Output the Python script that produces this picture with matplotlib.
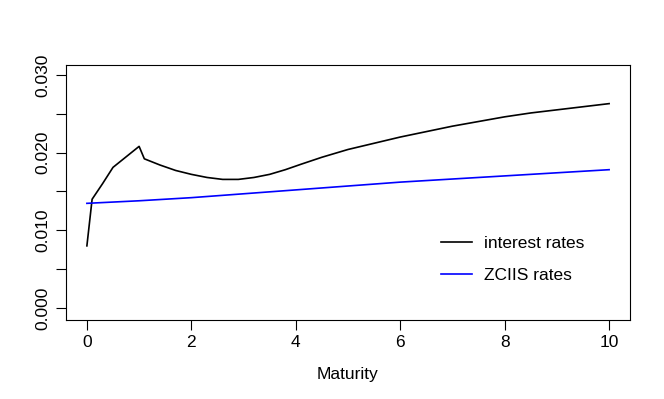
import matplotlib
matplotlib.use("Agg")
import matplotlib.pyplot as plt

plt.rcParams['font.family'] = ['Liberation Sans', 'DejaVu Sans']

rate_t = [0.0, 0.1, 0.3, 0.5, 1.0, 1.1, 1.4, 1.7, 2.0, 2.3, 2.6, 2.9, 3.2, 3.5,
          3.8, 4.1, 4.5, 5.0, 5.5, 6.0, 6.5, 7.0, 7.5, 8.0, 8.5, 9.0, 9.5, 10.0]
rate_v = [0.0080, 0.0140, 0.0160, 0.0181, 0.0208, 0.0192, 0.0184, 0.0177, 0.0172,
          0.0168, 0.01655, 0.01655, 0.0168, 0.0172, 0.0178, 0.0185, 0.0194, 0.0204,
          0.0212, 0.0220, 0.0227, 0.0234, 0.0240, 0.0246, 0.0251, 0.0255, 0.0259,
          0.0263]

zciis_t = [0, 1, 2, 3, 4, 5, 6, 7, 8, 9, 10]
zciis_v = [0.01347, 0.0138, 0.0142, 0.0147, 0.0152, 0.0157, 0.0162, 0.0166,
           0.0170, 0.0174, 0.0178]

xticks = [0, 2, 4, 6, 8, 10]
yticks = [0.000, 0.005, 0.010, 0.015, 0.020, 0.025, 0.030]
ylabels = ['0.000', '', '0.010', '', '0.020', '', '0.030']

fs = 12.5
fig = plt.figure(figsize=(6.64, 3.99), dpi=100)
ax = fig.add_axes([66/664, 1-320/399, (630-66)/664, (320-65)/399])

ax.plot(rate_t, rate_v, color='black', lw=1.2, label='interest rates')
ax.plot(zciis_t, zciis_v, color='blue', lw=1.2, label='ZCIIS rates')

ax.set_xlim(-0.4, 10.4)
ax.set_ylim(-0.00154, 0.03127)
ax.set_xticks(xticks)
ax.set_yticks(yticks)
ax.set_yticklabels(ylabels, rotation=90, va='center')
ax.tick_params(direction='out', length=7, width=0.8, labelsize=fs, pad=4)
for s in ax.spines.values():
    s.set_linewidth(0.8)
ax.set_xlabel('Maturity', fontsize=fs, labelpad=12)

ax.legend(loc='lower right', bbox_to_anchor=(0.946, 0.085), frameon=False,
          fontsize=fs, handlelength=1.8, handletextpad=0.65, labelspacing=0.95)

fig.savefig('out.png', dpi=100)
